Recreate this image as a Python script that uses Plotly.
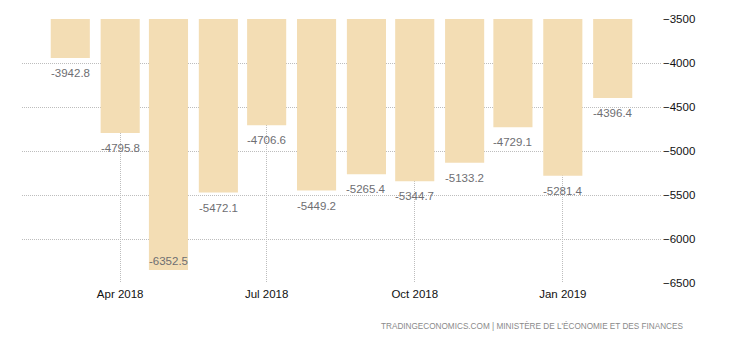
import plotly.graph_objects as go

months = ["2018-03-01", "2018-04-01", "2018-05-01", "2018-06-01", "2018-07-01", "2018-08-01",
          "2018-09-01", "2018-10-01", "2018-11-01", "2018-12-01", "2019-01-01", "2019-02-01"]
values = [-3942.8, -4795.8, -6352.5, -5472.1, -4706.6, -5449.2,
          -5265.4, -5344.7, -5133.2, -4729.1, -5281.4, -4396.4]
x_tick_vals = ["2018-04-01", "2018-07-01", "2018-10-01", "2019-01-01"]
x_tick_text = ["Apr 2018", "Jul 2018", "Oct 2018", "Jan 2019"]
y_tick_vals = [-6500, -6000, -5500, -5000, -4500, -4000, -3500]
source = "TRADINGECONOMICS.COM | MINISTÈRE DE L'ÉCONOMIE ET DES FINANCES"

BAR_COLOR = "#F3DDB4"
Y_MIN, Y_MAX = -6500, -3500
GRID = "#BDBDBD"

fig = go.Figure()
fig.add_trace(go.Bar(
    x=months, y=[v - Y_MAX for v in values], base=Y_MAX,
    marker=dict(color=BAR_COLOR, line=dict(width=0)),
    width=24.3 * 86400000, hoverinfo="skip",
))

annotations = []
for m, v in zip(months, values):
    inside = v == min(values)
    annotations.append(dict(
        x=m, y=v, xref="x", yref="y", text=f"{v:.1f}", showarrow=False,
        yanchor="middle", yshift=9 if inside else -15,
        font=dict(family="Liberation Sans, Arial", size=11.5, color="#6E6E72"),
    ))

pw = 730 - 22 - 69
ph = 340 - 19 - 57
annotations.append(dict(
    x=(685 - 22) / pw, y=(340 - 57 - 325.5) / ph, xref="paper", yref="paper",
    text=source, showarrow=False, xanchor="right", yanchor="middle",
    font=dict(family="Liberation Sans, Arial", size=8.2, color="#8A8A8A"),
))

fig.update_layout(
    width=730, height=340,
    margin=dict(l=22, r=69, t=19, b=57),
    paper_bgcolor="white", plot_bgcolor="white",
    showlegend=False,
    xaxis=dict(
        type="date", range=["2018-01-30", "2019-03-03"],
        tickvals=x_tick_vals, ticktext=x_tick_text,
        showgrid=True, gridcolor=GRID, griddash="1px,1px", gridwidth=1,
        showline=False, zeroline=False, ticks="",
        tickfont=dict(family="Liberation Sans, Arial", size=11.5, color="#111111"),
        ticklabelstandoff=2,
    ),
    yaxis=dict(
        range=[Y_MIN, Y_MAX], side="right", tickvals=y_tick_vals,
        showgrid=True, gridcolor=GRID, griddash="1px,1px", gridwidth=1,
        showline=False, zeroline=False, ticks="",
        tickfont=dict(family="Liberation Sans, Arial", size=11.5, color="#111111"),
        ticklabelstandoff=1,
    ),
    annotations=annotations,
)

fig.write_html("out.html")
